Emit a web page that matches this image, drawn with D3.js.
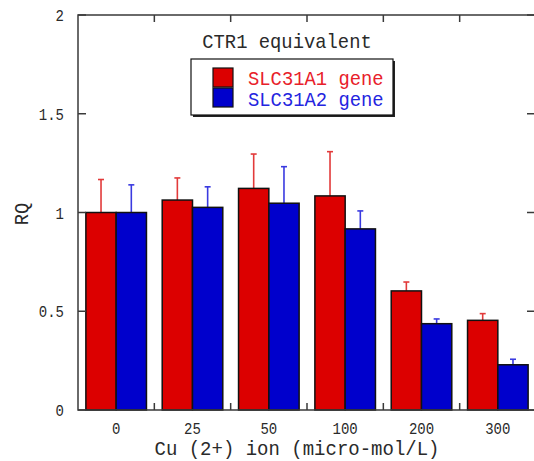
<!DOCTYPE html>
<html>
<head>
<meta charset="utf-8">
<script src="https://cdn.jsdelivr.net/npm/d3@7"></script>
<style>
  body { margin: 0; background: #fff; }
  svg { display: block; }
  text { font-family: "Liberation Mono", "DejaVu Sans Mono", monospace; fill: #2a2a2a; }
</style>
</head>
<body>
<svg id="chart" width="534" height="461"></svg>
<script>
// Cu concentrations (micro-mol/L)
const doses = ['0', '25', '50', '100', '200', '300'];
const series = ['SLC31A1 gene', 'SLC31A2 gene'];
// RQ means
const slc31a1 = [1.0, 1.063, 1.122, 1.084, 0.603, 0.454];
const slc31a2 = [1.0, 1.026, 1.047, 0.917, 0.437, 0.229];
// upper error bar (SD)
const slc31a1Err = [0.167, 0.112, 0.174, 0.224, 0.045, 0.034];
const slc31a2Err = [0.140, 0.104, 0.185, 0.091, 0.024, 0.028];
const yTicks = [0, 0.5, 1, 1.5, 2];

const fills = ['#dc0000', '#0000cc'];
const errColors = ['#e23a3a', '#3a3ae0'];
const textColors = ['#e8202a', '#2424e0'];

const svg = d3.select('#chart');
const plotLeft = 78;
const plotRight = 536;
const plotTop = 15;
const plotBottom = 410;

const x = d3.scaleBand().domain(doses).range([plotLeft, plotRight]).padding(0);
const x1 = d3.scaleBand().domain([0, 1]).range([0, x.bandwidth()])
    .paddingInner(0).paddingOuter(0.26);
const y = d3.scaleLinear().domain([0, 2]).range([plotBottom, plotTop]);

// monospace text squeezed to the half-width look of the original
const label = (sel, str, size, charW) => sel
    .attr('font-size', size)
    .attr('textLength', str.length * charW)
    .attr('lengthAdjust', 'spacingAndGlyphs')
    .text(str);

const rows = doses.map((d, i) => ({
  dose: d,
  values: [
    {s: 0, v: slc31a1[i], e: slc31a1Err[i]},
    {s: 1, v: slc31a2[i], e: slc31a2Err[i]},
  ],
}));

const groups = svg.append('g')
    .selectAll('g')
    .data(rows)
    .join('g')
    .attr('transform', (d) => `translate(${x(d.dose)},0)`);

// error bars first, bars over them
groups.selectAll('g.err')
    .data((d) => d.values)
    .join('g')
    .attr('class', 'err')
    .attr('stroke', (d) => errColors[d.s])
    .attr('stroke-width', 1.6)
    .each(function(d) {
      const g = d3.select(this);
      const cx = x1(d.s) + x1.bandwidth() / 2;
      g.append('line')
          .attr('x1', cx).attr('x2', cx)
          .attr('y1', y(d.v)).attr('y2', y(d.v + d.e));
      g.append('line')
          .attr('x1', cx - 3).attr('x2', cx + 3)
          .attr('y1', y(d.v + d.e)).attr('y2', y(d.v + d.e));
    });

groups.selectAll('rect')
    .data((d) => d.values)
    .join('rect')
    .attr('x', (d) => x1(d.s))
    .attr('y', (d) => y(d.v))
    .attr('width', x1.bandwidth())
    .attr('height', (d) => y(0) - y(d.v))
    .attr('fill', (d) => fills[d.s])
    .attr('stroke', '#111')
    .attr('stroke-width', 1.5);

// frame
const axisColor = '#3a3a3a';
svg.append('rect')
    .attr('x', plotLeft).attr('y', plotTop)
    .attr('width', plotRight - plotLeft).attr('height', plotBottom - plotTop)
    .attr('fill', 'none')
    .attr('stroke', axisColor)
    .attr('stroke-width', 1.5);

// band separator ticks, top and bottom
const seps = doses.slice(1).map((d) => x(d));
svg.append('g')
    .selectAll('line')
    .data(seps)
    .join('line')
    .attr('x1', (d) => d).attr('x2', (d) => d)
    .attr('y1', plotTop).attr('y2', plotTop + 7)
    .attr('stroke', axisColor).attr('stroke-width', 1.5);
svg.append('g')
    .selectAll('line')
    .data(seps)
    .join('line')
    .attr('x1', (d) => d).attr('x2', (d) => d)
    .attr('y1', plotBottom).attr('y2', plotBottom - 7)
    .attr('stroke', axisColor).attr('stroke-width', 1.5);

// y ticks, inward on both sides
const yt = svg.append('g');
yt.selectAll('line.l')
    .data(yTicks)
    .join('line')
    .attr('class', 'l')
    .attr('x1', plotLeft).attr('x2', plotLeft + 8)
    .attr('y1', (d) => y(d)).attr('y2', (d) => y(d))
    .attr('stroke', axisColor).attr('stroke-width', 1.5);
yt.selectAll('line.r')
    .data(yTicks)
    .join('line')
    .attr('class', 'r')
    .attr('x1', plotRight - 9).attr('x2', plotRight)
    .attr('y1', (d) => y(d)).attr('y2', (d) => y(d))
    .attr('stroke', axisColor).attr('stroke-width', 1.5);
yt.selectAll('text')
    .data(yTicks)
    .join('text')
    .attr('x', 64)
    .attr('y', (d) => y(d) + 6)
    .attr('text-anchor', 'end')
    .each(function(d) {
      label(d3.select(this), d3.format('~g')(d), 16.5, 8.4);
    });

// x tick labels
svg.append('g')
    .selectAll('text')
    .data(doses)
    .join('text')
    .attr('x', (d) => x(d) + x.bandwidth() / 2)
    .attr('y', 434)
    .attr('text-anchor', 'middle')
    .each(function(d) {
      label(d3.select(this), d, 16, 8.4);
    });

// axis titles
label(svg.append('text')
    .attr('x', 297).attr('y', 455)
    .attr('text-anchor', 'middle'), 'Cu (2+) ion (micro-mol/L)', 21, 11.4);
label(svg.append('text')
    .attr('transform', 'translate(28,214) rotate(-90)')
    .attr('text-anchor', 'middle'), 'RQ', 21, 11.3);

// chart title
label(svg.append('text')
    .attr('x', 287).attr('y', 48)
    .attr('text-anchor', 'middle'), 'CTR1 equivalent', 21, 11.3);

// legend
const lg = svg.append('g');
lg.append('rect')
    .attr('x', 193).attr('y', 61).attr('width', 202).attr('height', 56)
    .attr('fill', '#222');
lg.append('rect')
    .attr('x', 191).attr('y', 59).attr('width', 202).attr('height', 56)
    .attr('fill', '#fff').attr('stroke', '#111').attr('stroke-width', 1.2);
lg.selectAll('rect.sw')
    .data(series)
    .join('rect')
    .attr('class', 'sw')
    .attr('x', 213)
    .attr('y', (d, i) => 68 + i * 20)
    .attr('width', 20).attr('height', 19)
    .attr('fill', (d, i) => fills[i])
    .attr('stroke', '#111').attr('stroke-width', 1.2);
lg.selectAll('text')
    .data(series)
    .join('text')
    .attr('x', 248)
    .attr('y', (d, i) => 85 + i * 21)
    .style('fill', (d, i) => textColors[i])
    .each(function(d) {
      label(d3.select(this), d, 21, 11.3);
    });
</script>
</body>
</html>
